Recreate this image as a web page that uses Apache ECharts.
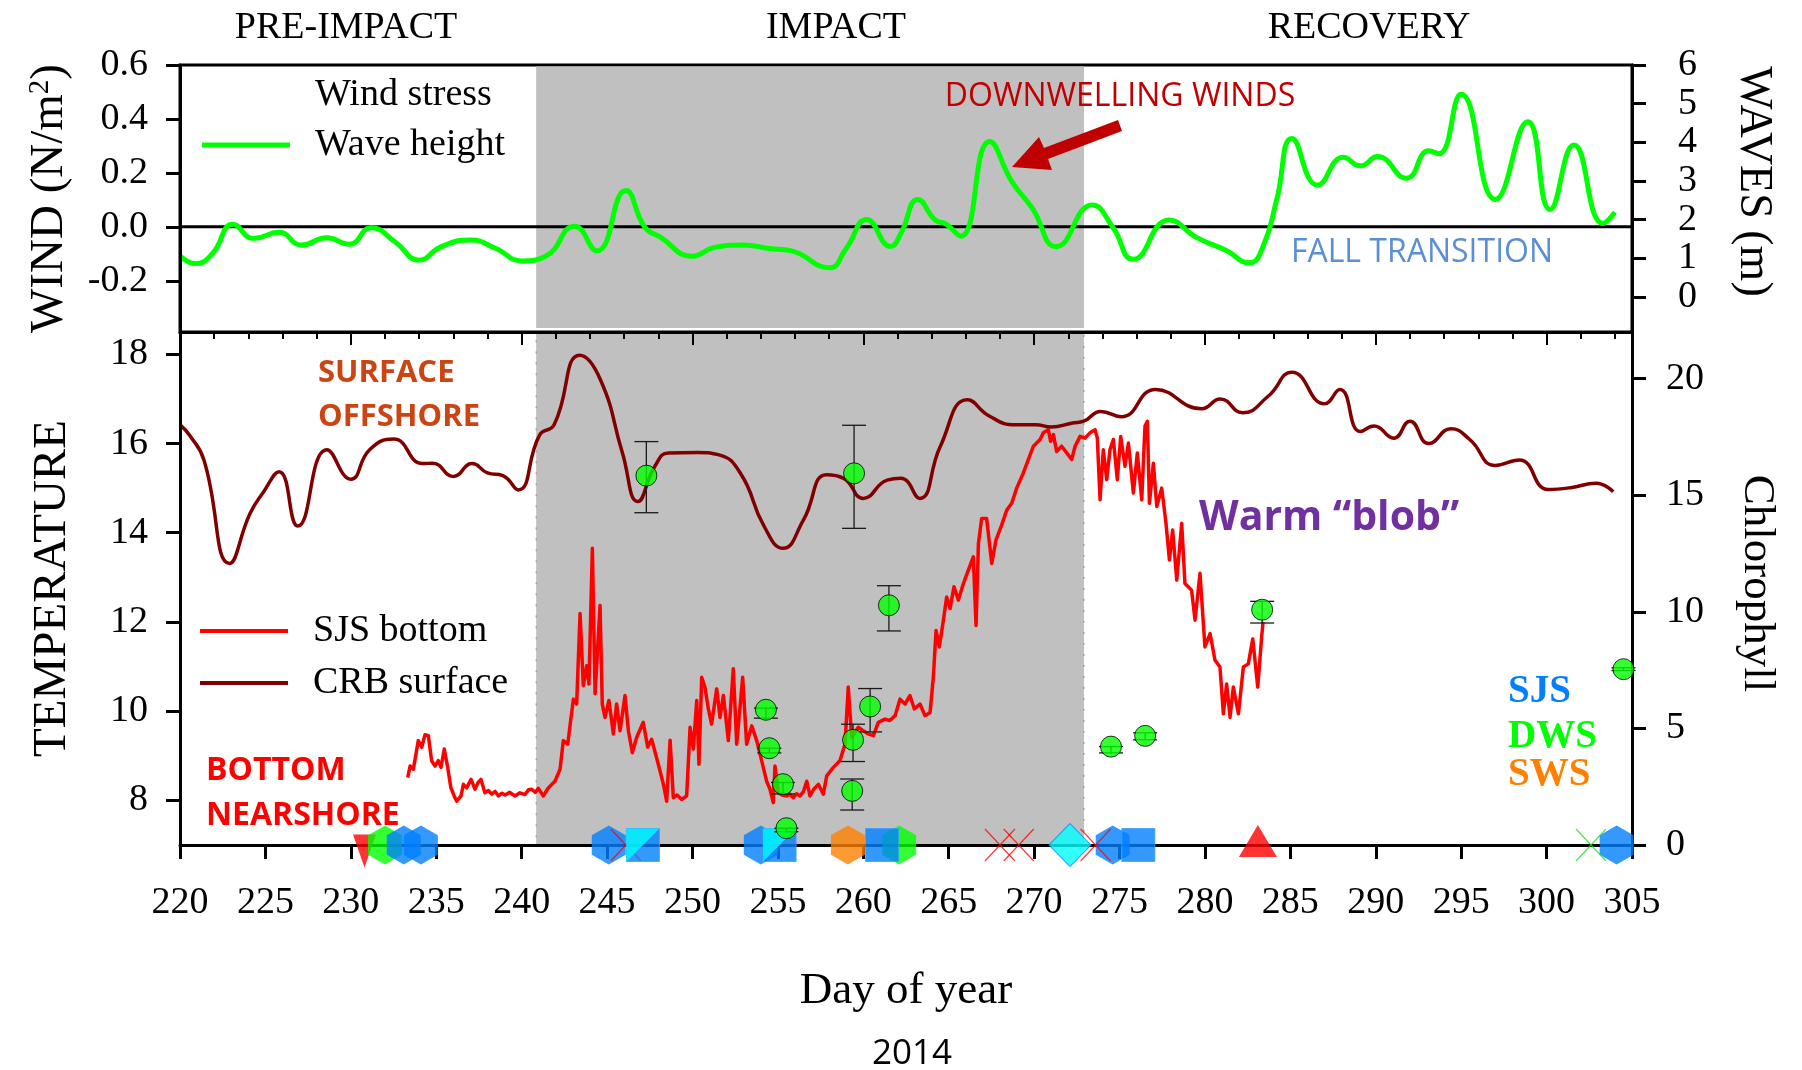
<!DOCTYPE html>
<html>
<head>
<meta charset="utf-8">
<title>Wind, waves, temperature and chlorophyll, 2014</title>
<script src="https://cdn.jsdelivr.net/npm/echarts@6/dist/echarts.min.js"></script>
<style>
  html, body { margin: 0; padding: 0; background: #ffffff; }
  #chart { width: 1802px; height: 1070px; }
</style>
</head>
<body>
<div id="chart"></div>
<script>
const SERIF = '"Liberation Serif", "Times New Roman", Times, serif';
const SANS = '"Open Sans", "Noto Sans", Arial, sans-serif';

// Day-of-year range and the shaded impact period
const dayMin = 220, dayMax = 305;
const impactStart = 240.85, impactEnd = 272.92;

// Wave height (m)
const waveDays = [220.05, 220.9, 221.9, 223.1, 224.3, 225.8, 227.1, 228.6, 229.9, 231.2,
  232.6, 234.0, 235.3, 237.0, 238.5, 240.0, 241.4, 243.1, 244.4, 246.1,
  247.2, 248.1, 250.0, 251.3, 253.0, 254.5, 255.8, 258.0, 259.0, 260.2,
  261.6, 262.2, 263.2, 264.2, 264.85, 265.7, 267.4, 268.7, 269.9, 271.3,
  273.4, 274.6, 275.8, 277.9, 279.5, 281.2, 282.6, 283.4, 284.2, 285.1,
  286.6, 288.1, 289.1, 290.1, 291.8, 293.1, 293.7, 295.0, 297.0, 298.9,
  300.2, 301.6, 303.3, 304.0];
const waveHeight = [1.04, 0.86, 1.12, 1.88, 1.51, 1.67, 1.34, 1.53, 1.36, 1.79,
  1.42, 0.95, 1.30, 1.47, 1.25, 0.93, 1.05, 1.83, 1.19, 2.75,
  1.81, 1.55, 1.05, 1.28, 1.34, 1.25, 1.19, 0.75, 1.25, 2.00,
  1.30, 1.64, 2.52, 1.99, 1.88, 1.57, 4.02, 2.98, 2.29, 1.30,
  2.38, 1.81, 0.97, 1.99, 1.54, 1.21, 0.88, 1.30, 2.51, 4.10,
  2.89, 3.61, 3.39, 3.63, 3.07, 3.78, 3.70, 5.24, 2.52, 4.53,
  2.26, 3.93, 1.90, 2.19];

// CRB surface temperature (offshore)
const crbDays = [220.05, 220.55, 221.4, 222.9, 224.1, 224.9, 225.8, 226.9, 228.6, 230.0,
  231.1, 232.5, 234.2, 234.8, 236.0, 237.1, 238.0, 238.9, 239.8, 241.05,
  241.9, 243.4, 244.6, 245.9, 246.8, 247.8, 248.6, 250.3, 251.5, 252.8,
  254.2, 255.3, 256.5, 257.85, 258.85, 260.0, 261.4, 262.2, 263.3, 264.5,
  266.1, 267.4, 268.9, 270.1, 271.0, 272.25, 272.9, 273.9, 275.1, 277.1,
  279.8, 280.9, 282.2, 283.7, 285.1, 287.0, 287.9, 289.1, 289.9, 291.05,
  292.0, 293.1, 294.4, 295.5, 297.0, 298.4, 300.1, 301.4, 302.9, 303.9];
const crbTemp = [16.40, 16.19, 15.63, 13.31, 14.43, 14.92, 15.37, 14.15, 15.86, 15.20,
  15.86, 16.10, 15.55, 15.56, 15.26, 15.55, 15.34, 15.28, 14.96, 16.19,
  16.42, 17.98, 17.44, 15.79, 14.70, 15.49, 15.79, 15.80, 15.75, 15.34,
  14.14, 13.65, 14.29, 15.30, 15.22, 14.77, 15.18, 15.22, 14.77, 15.93,
  16.98, 16.61, 16.42, 16.42, 16.37, 16.46, 16.50, 16.72, 16.60, 17.21,
  16.78, 17.00, 16.69, 17.06, 17.60, 16.89, 17.21, 16.27, 16.39, 16.12,
  16.50, 16.00, 16.33, 16.09, 15.51, 15.63, 14.97, 15.01, 15.11, 14.92];

// SJS bottom temperature (nearshore mooring)
const sjsDays = [233.33, 233.47, 233.66, 233.95, 234.15, 234.34, 234.54, 234.73, 234.93, 235.12,
  235.28, 235.47, 235.67, 235.86, 236.05, 236.2, 236.45, 236.59, 236.78, 237.04,
  237.27, 237.45, 237.62, 237.85, 238.05, 238.25, 238.45, 238.64, 238.85, 239.03,
  239.3, 239.61, 239.9, 240.2, 240.4, 240.59, 240.8, 240.98, 241.27, 241.56,
  241.95, 242.25, 242.44, 242.7, 242.83, 243.03, 243.22, 243.42, 243.61, 243.81,
  243.94, 244.14, 244.3, 244.59, 244.72, 244.88, 245.11, 245.37, 245.56, 245.76,
  246.05, 246.25, 246.48, 246.73, 247.12, 247.38, 247.61, 248.0, 248.3, 248.49,
  248.69, 248.88, 249.1, 249.37, 249.66, 249.86, 250.05, 250.25, 250.38, 250.54,
  250.73, 250.93, 251.12, 251.42, 251.61, 251.81, 252.1, 252.39, 252.59, 252.94,
  253.17, 253.47, 253.76, 254.05, 254.34, 254.54, 254.73, 254.83, 255.03, 255.25,
  255.51, 255.7, 255.9, 256.1, 256.3, 256.5, 256.69, 256.88, 257.1, 257.37,
  257.66, 257.86, 258.25, 258.63, 258.93, 259.12, 259.32, 259.71, 260.0, 260.29,
  260.59, 260.88, 261.27, 261.56, 261.86, 262.15, 262.44, 262.73, 262.99, 263.32,
  263.61, 263.91, 264.1, 264.26, 264.45, 264.69, 264.88, 265.08, 265.31, 265.57,
  265.86, 266.15, 266.44, 266.6, 266.74, 266.93, 267.22, 267.52, 267.77, 268.1,
  268.4, 268.69, 268.98, 269.37, 269.66, 269.96, 270.35, 270.54, 270.83, 270.97,
  271.13, 271.32, 271.61, 271.91, 272.2, 272.4, 272.69, 272.98, 273.27, 273.57,
  273.7, 273.86, 274.05, 274.25, 274.44, 274.64, 274.87, 275.07, 275.32, 275.52,
  275.81, 276.04, 276.3, 276.49, 276.63, 276.75, 276.98, 277.18, 277.47, 277.72,
  277.92, 278.11, 278.35, 278.64, 278.83, 279.22, 279.42, 279.71, 280.0, 280.3,
  280.59, 280.88, 281.08, 281.27, 281.47, 281.66, 281.96, 282.25, 282.54, 282.8,
  283.09, 283.32, 283.4];
const sjsTemp = [8.51, 8.77, 8.70, 9.34, 9.19, 9.47, 9.45, 8.89, 8.77, 8.89,
  8.74, 9.15, 8.74, 8.28, 8.10, 7.98, 8.10, 8.36, 8.28, 8.47,
  8.25, 8.40, 8.47, 8.17, 8.22, 8.14, 8.20, 8.10, 8.16, 8.12,
  8.18, 8.10, 8.17, 8.13, 8.24, 8.25, 8.18, 8.27, 8.10, 8.28,
  8.43, 8.70, 9.34, 9.26, 9.67, 10.27, 10.16, 12.19, 10.57, 11.02,
  10.61, 13.65, 10.39, 12.37, 10.16, 9.86, 10.24, 9.49, 10.16, 9.56,
  10.35, 9.56, 9.07, 9.41, 9.75, 9.19, 9.37, 8.81, 8.36, 7.98,
  9.35, 8.06, 8.12, 8.02, 8.10, 9.64, 9.15, 10.24, 8.81, 10.76,
  10.54, 10.05, 9.71, 10.50, 9.86, 10.35, 9.34, 10.95, 9.26, 10.76,
  9.26, 9.67, 9.34, 8.89, 8.43, 8.25, 7.95, 8.77, 8.17, 8.12,
  8.10, 8.14, 8.06, 8.15, 8.10, 8.20, 8.43, 8.10, 8.25, 8.36,
  8.14, 8.55, 8.74, 8.89, 9.26, 10.54, 9.41, 9.64, 9.56, 9.49,
  9.45, 9.75, 9.82, 9.79, 9.90, 10.27, 10.16, 10.35, 10.05, 10.16,
  9.90, 9.97, 10.76, 11.81, 11.44, 12.04, 12.56, 12.30, 12.79, 12.49,
  12.86, 13.16, 13.46, 11.92, 13.76, 14.32, 14.32, 13.31, 13.84, 14.17,
  14.51, 14.66, 15.00, 15.34, 15.64, 15.94, 16.09, 16.24, 16.31, 16.05,
  16.20, 15.82, 15.94, 15.79, 15.64, 15.94, 16.16, 16.12, 16.24, 16.31,
  16.12, 14.74, 15.86, 15.19, 15.86, 16.09, 15.19, 16.16, 15.49, 16.01,
  14.89, 15.79, 14.74, 16.39, 16.50, 14.66, 15.56, 14.59, 15.00, 14.21,
  13.39, 14.06, 12.94, 14.21, 12.86, 12.71, 12.04, 13.09, 11.44, 11.74,
  11.14, 10.99, 9.94, 10.61, 9.86, 10.54, 9.94, 10.99, 11.06, 11.62,
  10.54, 11.66, 12.00];

// Chlorophyll samples with error range
const chlDays = [247.3, 254.3, 254.5, 255.3, 255.5, 259.35, 259.4, 259.46, 260.4, 261.5, 274.5, 276.5, 283.35, 304.5];
const chlMean = [15.84, 5.80, 4.15, 2.61, 0.72, 2.32, 4.51, 15.94, 5.94, 10.28, 4.22, 4.68, 10.09, 7.54];
const chlLow  = [14.25, 5.44, 3.95, 2.19, 0.57, 1.50, 3.58, 13.58, 4.85, 9.18, 3.95, 4.51, 9.52, 7.48];
const chlHigh = [17.30, 5.87, 4.15, 2.68, 0.72, 2.83, 5.18, 18.00, 6.71, 11.12, 4.22, 4.81, 10.45, 7.60];

// Sampling events along the day axis
const sjsHexDays = [233.1, 234.1, 245.1, 254.0, 274.6, 304.1];
const sjsSquareDays = [247.1, 255.1, 261.1, 276.1];
const sjsSplitDays = [247.1, 255.1];
const dwsHexDays = [232.0, 262.1];
const swsHexDays = [259.1];
const diamondDays = [272.1];
const redCrossDays = [246.1, 268.0, 269.1, 273.6];
const greenCrossDays = [302.6];
const triDownDays = [230.8];
const triUpDays = [283.1];

// Tick values
const windTicks = [-0.2, 0, 0.2, 0.4, 0.6];
const waveTicks = [0, 1, 2, 3, 4, 5, 6];
const tempTicks = [8, 10, 12, 14, 16, 18];
const chlTicks = [0, 5, 10, 15, 20];

const zip = (xs, ys) => xs.map((x, i) => [x, ys[i]]);
const onDayAxis = days => days.map(d => [d, 0]);

const BLUE = '#0080ff', CYAN = '#00ffff', GREEN = '#00ff00', ORANGE = '#ff8000', RED = '#ff0000';
const HEX = 'path://M43.3,0 L86.6,25 L86.6,75 L43.3,100 L0,75 L0,25 Z';
const HALF = 'path://M0,0 L100,0 L0,100 Z';
const CROSS = 'path://M0,0 L100,100 M100,0 L0,100';

const tickLabel = { fontFamily: SERIF, fontSize: 38, color: '#000' };
const axisLineStyle = { lineStyle: { color: '#000', width: 3 } };

function eventSeries(name, days, symbol, size, style, z, extra) {
  return Object.assign({
    name: name, type: 'scatter', xAxisIndex: 1, yAxisIndex: 3,
    data: onDayAxis(days), symbol: symbol, symbolSize: size,
    itemStyle: style, clip: false, silent: true, z: z
  }, extra || {});
}

const legendText = (gap) => ({
  fontFamily: SERIF, fontSize: 38, color: '#000',
  rich: { t: { fontFamily: SERIF, fontSize: 38, lineHeight: 38, color: '#000', padding: [0, 0, 0, gap] } }
});

function txt(text, x, y, font, fill, align, extra) {
  return Object.assign({
    type: 'text', x: x, y: y, silent: true, z: 20,
    style: { text: text, font: font, fill: fill, align: align || 'center', verticalAlign: 'middle' }
  }, extra || {});
}

const chart = echarts.init(document.getElementById('chart'), null, { renderer: 'canvas' });

const option = {
  animation: false,
  backgroundColor: '#ffffff',
  grid: [
    { left: 180, top: 65, width: 1452, height: 267, show: true, borderColor: '#000', borderWidth: 3, backgroundColor: 'transparent' },
    { left: 180, top: 332, width: 1452, height: 513, show: false }
  ],
  legend: [
    {
      data: [{ name: 'Wind stress', icon: 'none' }, { name: 'Wave height' }],
      orient: 'vertical', left: 202, top: 76, padding: 0, itemWidth: 88, itemHeight: 5, itemGap: 12,
      icon: 'rect', selectedMode: false,
      formatter: n => '{t|' + n + '}', textStyle: legendText(20)
    },
    {
      data: ['SJS bottom', 'CRB surface'],
      orient: 'vertical', left: 200, top: 612, padding: 0, itemWidth: 88, itemHeight: 4, itemGap: 14,
      icon: 'rect', selectedMode: false,
      formatter: n => '{t|' + n + '}', textStyle: legendText(20)
    }
  ],
  xAxis: [
    { gridIndex: 0, type: 'value', min: dayMin, max: dayMax, show: false },
    {
      gridIndex: 1, type: 'value', min: dayMin, max: dayMax, interval: 5, position: 'bottom', z: 4,
      axisLine: axisLineStyle,
      axisTick: { show: true, inside: false, length: 14, lineStyle: { color: '#000', width: 3 } },
      axisLabel: Object.assign({ margin: 39 }, tickLabel),
      splitLine: { show: false },
      name: 'Day of year', nameLocation: 'middle', nameGap: 124,
      nameTextStyle: { fontFamily: SERIF, fontSize: 45, color: '#000' }
    },
    {
      gridIndex: 1, type: 'value', min: dayMin, max: dayMax, interval: 2, position: 'top', z: 4,
      axisLine: axisLineStyle,
      axisTick: { show: true, inside: true, length: 7, lineStyle: { color: '#000', width: 2 } },
      axisLabel: { show: false }, splitLine: { show: false }
    },
    {
      gridIndex: 1, type: 'value', min: dayMin, max: dayMax, interval: 10, position: 'top', z: 4,
      axisLine: { show: false },
      axisTick: { show: true, inside: true, length: 13, lineStyle: { color: '#000', width: 2 } },
      axisLabel: { show: false }, splitLine: { show: false }
    }
  ],
  yAxis: [
    {
      gridIndex: 0, type: 'value', min: -0.39, max: 0.6, position: 'left', z: 4,
      axisLine: axisLineStyle,
      axisTick: { show: true, length: 14, customValues: windTicks, lineStyle: { color: '#000', width: 3 } },
      axisLabel: Object.assign({ margin: 32, customValues: windTicks, formatter: v => v.toFixed(1) }, tickLabel),
      splitLine: { show: false },
      name: '{a|WIND (N/m}{s|2}{a|)}', nameLocation: 'middle', nameRotate: 90, nameGap: 107,
      nameTextStyle: {
        rich: {
          a: { fontFamily: SERIF, fontSize: 47, color: '#000' },
          s: { fontFamily: SERIF, fontSize: 29, color: '#000', verticalAlign: 'top' }
        }
      }
    },
    {
      gridIndex: 0, type: 'value', min: -0.91, max: 6, position: 'right', z: 4,
      axisLine: axisLineStyle,
      axisTick: { show: true, length: 14, customValues: waveTicks, lineStyle: { color: '#000', width: 3 } },
      axisLabel: Object.assign({ margin: 46, customValues: waveTicks }, tickLabel),
      splitLine: { show: false },
      name: 'WAVES (m)', nameLocation: 'middle', nameRotate: -90, nameGap: 98,
      nameTextStyle: { fontFamily: SERIF, fontSize: 46, color: '#000', padding: [0, 34, 0, 0] }
    },
    {
      gridIndex: 1, type: 'value', min: 7, max: 18.5, position: 'left', z: 4,
      axisLine: axisLineStyle,
      axisTick: { show: true, length: 14, customValues: tempTicks, lineStyle: { color: '#000', width: 3 } },
      axisLabel: Object.assign({ margin: 32, customValues: tempTicks }, tickLabel),
      splitLine: { show: false },
      name: 'TEMPERATURE', nameLocation: 'middle', nameRotate: 90, nameGap: 104,
      nameTextStyle: { fontFamily: SERIF, fontSize: 47, color: '#000' }
    },
    {
      gridIndex: 1, type: 'value', min: 0, max: 22, position: 'right', z: 4,
      axisLine: axisLineStyle,
      axisTick: { show: true, length: 14, customValues: chlTicks, lineStyle: { color: '#000', width: 3 } },
      axisLabel: Object.assign({ margin: 34, customValues: chlTicks }, tickLabel),
      splitLine: { show: false },
      name: 'Chlorophyll', nameLocation: 'middle', nameRotate: -90, nameGap: 102,
      nameTextStyle: { fontFamily: SERIF, fontSize: 45, color: '#000', padding: [0, 10, 0, 0] }
    }
  ],
  series: [
    // upper panel
    {
      name: 'Wind stress', type: 'line', xAxisIndex: 0, yAxisIndex: 0, data: [],
      symbol: 'none', lineStyle: { color: '#000', width: 2 }, itemStyle: { color: '#000' }
    },
    {
      name: 'zero', type: 'line', xAxisIndex: 0, yAxisIndex: 0, z: 2, silent: true,
      data: [[dayMin, 0], [dayMax, 0]], symbol: 'none',
      lineStyle: { color: '#000', width: 3 },
      markArea: {
        silent: true, itemStyle: { color: '#c0c0c0' },
        data: [[{ xAxis: impactStart, yAxis: -0.375 }, { xAxis: impactEnd, yAxis: 0.594 }]]
      }
    },
    {
      name: 'Wave height', type: 'line', xAxisIndex: 0, yAxisIndex: 1, z: 3,
      data: zip(waveDays, waveHeight), smooth: 0.5, symbol: 'none',
      lineStyle: { color: GREEN, width: 5 }, itemStyle: { color: GREEN }
    },
    // lower panel
    {
      name: 'SJS bottom', type: 'line', xAxisIndex: 1, yAxisIndex: 2, z: 2,
      data: zip(sjsDays, sjsTemp), symbol: 'none',
      lineStyle: { color: RED, width: 3.5, join: 'round' }, itemStyle: { color: RED },
      markArea: {
        silent: true,
        itemStyle: { color: '#c0c0c0', borderColor: '#8c8c8c', borderWidth: 1, borderType: [2, 9] },
        data: [[{ xAxis: impactStart, yAxis: 7 }, { xAxis: impactEnd, yAxis: 18.5 }]]
      }
    },
    {
      name: 'CRB surface', type: 'line', xAxisIndex: 1, yAxisIndex: 2, z: 3,
      data: zip(crbDays, crbTemp), smooth: 0.5, symbol: 'none',
      lineStyle: { color: '#800000', width: 3.5 }, itemStyle: { color: '#800000' }
    },
    eventSeries('SWS', swsHexDays, HEX, [34, 39], { color: ORANGE }, 5),
    eventSeries('triangle down', triDownDays, 'triangle', [23, 33], { color: RED }, 6, { symbolRotate: 180, symbolOffset: [0, 6] }),
    eventSeries('triangle up', triUpDays, 'triangle', [38, 32], { color: RED }, 6, { symbolOffset: [0, -4] }),
    eventSeries('DWS', dwsHexDays, HEX, [34, 39], { color: GREEN }, 7),
    eventSeries('diamond', diamondDays, 'diamond', [42, 43], { color: CYAN, borderColor: BLUE, borderWidth: 1 }, 8),
    eventSeries('SJS', sjsHexDays, HEX, [34, 39], { color: BLUE }, 9),
    eventSeries('cross red', redCrossDays, CROSS, [30, 32], { color: 'none', borderColor: RED, borderWidth: 1.2 }, 10),
    eventSeries('cross green', greenCrossDays, CROSS, [30, 32], { color: 'none', borderColor: '#22dd22', borderWidth: 1.2 }, 10),
    eventSeries('SJS square', sjsSquareDays, 'rect', [33, 33], { color: BLUE, borderColor: '#3aa0ff', borderWidth: 1 }, 11),
    eventSeries('SJS split', sjsSplitDays, HALF, [33, 33], { color: CYAN }, 12),
    {
      name: 'chl range', type: 'custom', xAxisIndex: 1, yAxisIndex: 3, z: 14, silent: true, clip: false,
      data: chlDays.map((d, i) => [d, chlLow[i], chlHigh[i]]),
      encode: { x: 0, y: [1, 2] },
      renderItem: function (params, api) {
        const d = api.value(0);
        const lo = api.coord([d, api.value(1)]);
        const hi = api.coord([d, api.value(2)]);
        const cap = 12;
        const st = { stroke: '#1a1a1a', lineWidth: 1.3 };
        return {
          type: 'group',
          children: [
            { type: 'line', shape: { x1: lo[0], y1: lo[1], x2: hi[0], y2: hi[1] }, style: st },
            { type: 'line', shape: { x1: lo[0] - cap, y1: lo[1], x2: lo[0] + cap, y2: lo[1] }, style: st },
            { type: 'line', shape: { x1: hi[0] - cap, y1: hi[1], x2: hi[0] + cap, y2: hi[1] }, style: st }
          ]
        };
      }
    },
    {
      name: 'Chlorophyll', type: 'scatter', xAxisIndex: 1, yAxisIndex: 3, z: 15, silent: true, clip: false,
      data: zip(chlDays, chlMean), symbol: 'circle', symbolSize: 21,
      itemStyle: { color: GREEN, borderColor: '#000', borderWidth: 1 }
    }
  ],
  graphic: [
    txt('PRE-IMPACT', 346, 28, '38px ' + SERIF, '#000'),
    txt('IMPACT', 836, 28, '38px ' + SERIF, '#000'),
    txt('RECOVERY', 1369, 28, '38px ' + SERIF, '#000'),
    txt('DOWNWELLING WINDS', 1120, 97, '32px ' + SANS, '#c00000'),
    {
      type: 'polygon', silent: true, z: 20,
      shape: { points: [[1118, 120], [1044, 148], [1039, 137], [1012, 167], [1052, 170], [1048, 159], [1122, 131]] },
      style: { fill: '#c00000' }
    },
    txt('FALL TRANSITION', 1422, 253, '32px ' + SANS, '#5b8fd5'),
    txt('SURFACE', 318, 373, 'bold 31px ' + SANS, '#cc4411', 'left'),
    txt('OFFSHORE', 318, 417, 'bold 31px ' + SANS, '#cc4411', 'left'),
    txt('BOTTOM', 206, 771, 'bold 32px ' + SANS, RED, 'left'),
    txt('NEARSHORE', 206, 816, 'bold 32px ' + SANS, RED, 'left'),
    txt('Warm \u201cblob\u201d', 1199, 518, 'bold 41px ' + SANS, '#7030a0', 'left'),
    txt('SJS', 1508, 692, 'bold 39px ' + SERIF, BLUE, 'left'),
    txt('DWS', 1508, 737, 'bold 39px ' + SERIF, GREEN, 'left'),
    txt('SWS', 1508, 775, 'bold 39px ' + SERIF, ORANGE, 'left'),
    txt('2014', 912, 1054, '35px ' + SANS, '#000')
  ]
};

chart.setOption(option);
</script>
</body>
</html>
